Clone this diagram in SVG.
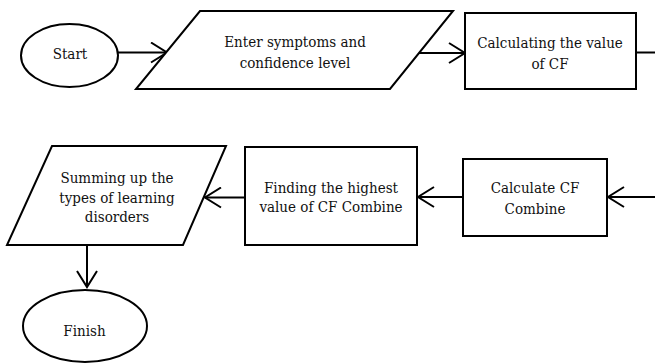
<svg xmlns="http://www.w3.org/2000/svg" width="655" height="363" viewBox="0 0 655 363">
<style>
.s{fill:#fff;stroke:#000;stroke-width:2}
.t{font-family:"DejaVu Serif Condensed","DejaVu Serif",serif;font-stretch:condensed;font-size:15px;fill:#111;text-anchor:middle}
.c{fill:none;stroke:#000;stroke-width:2}
</style>
<defs>
<marker id="a" viewBox="0 0 20 22" refX="18" refY="11" markerWidth="20" markerHeight="22" markerUnits="userSpaceOnUse" orient="auto">
<path d="M2,1 L18,11 L2,21" fill="none" stroke="#000" stroke-width="2"/>
</marker>
</defs>
<rect width="655" height="363" fill="#fff"/>
<g id="connectors">
<line class="c" x1="118" y1="52.5" x2="167" y2="52.5" marker-end="url(#a)"/>
<line class="c" x1="417" y1="53" x2="465" y2="53" marker-end="url(#a)"/>
<line class="c" x1="636" y1="52.5" x2="655" y2="52.5"/>
<line class="c" x1="655" y1="197" x2="608" y2="197" marker-end="url(#a)"/>
<line class="c" x1="463" y1="197" x2="418" y2="197" marker-end="url(#a)"/>
<line class="c" x1="245" y1="197.5" x2="205" y2="197.5" marker-end="url(#a)"/>
<line class="c" x1="87" y1="245" x2="87" y2="287" marker-end="url(#a)"/>
</g>
<g id="start">
<ellipse class="s" cx="69.5" cy="55.5" rx="48.5" ry="31.5"/>
<text class="t" x="70" y="58.5">Start</text>
</g>
<g id="enter">
<polygon class="s" points="200,11 453,11 390,89 136,89"/>
<text class="t" x="295" y="47">Enter symptoms and</text>
<text class="t" x="295" y="68">confidence level</text>
</g>
<g id="calccf">
<rect class="s" x="465" y="13" width="171" height="76"/>
<text class="t" x="550" y="48.3">Calculating the value</text>
<text class="t" x="550" y="69.3">of CF</text>
</g>
<g id="combine">
<rect class="s" x="463" y="159" width="144" height="77"/>
<text class="t" x="535" y="193.3">Calculate CF</text>
<text class="t" x="535" y="213.5">Combine</text>
</g>
<g id="highest">
<rect class="s" x="245" y="147" width="172" height="98"/>
<text class="t" x="331" y="192.7">Finding the highest</text>
<text class="t" x="331" y="212">value of CF Combine</text>
</g>
<g id="summing">
<polygon class="s" points="52,146 226,146 183,245 7,245"/>
<text class="t" x="117" y="183.3">Summing up the</text>
<text class="t" x="117" y="202.7">types of learning</text>
<text class="t" x="117" y="222">disorders</text>
</g>
<g id="finish">
<ellipse class="s" cx="85" cy="326" rx="62" ry="36"/>
<text class="t" x="84.5" y="335.7">Finish</text>
</g>
</svg>
